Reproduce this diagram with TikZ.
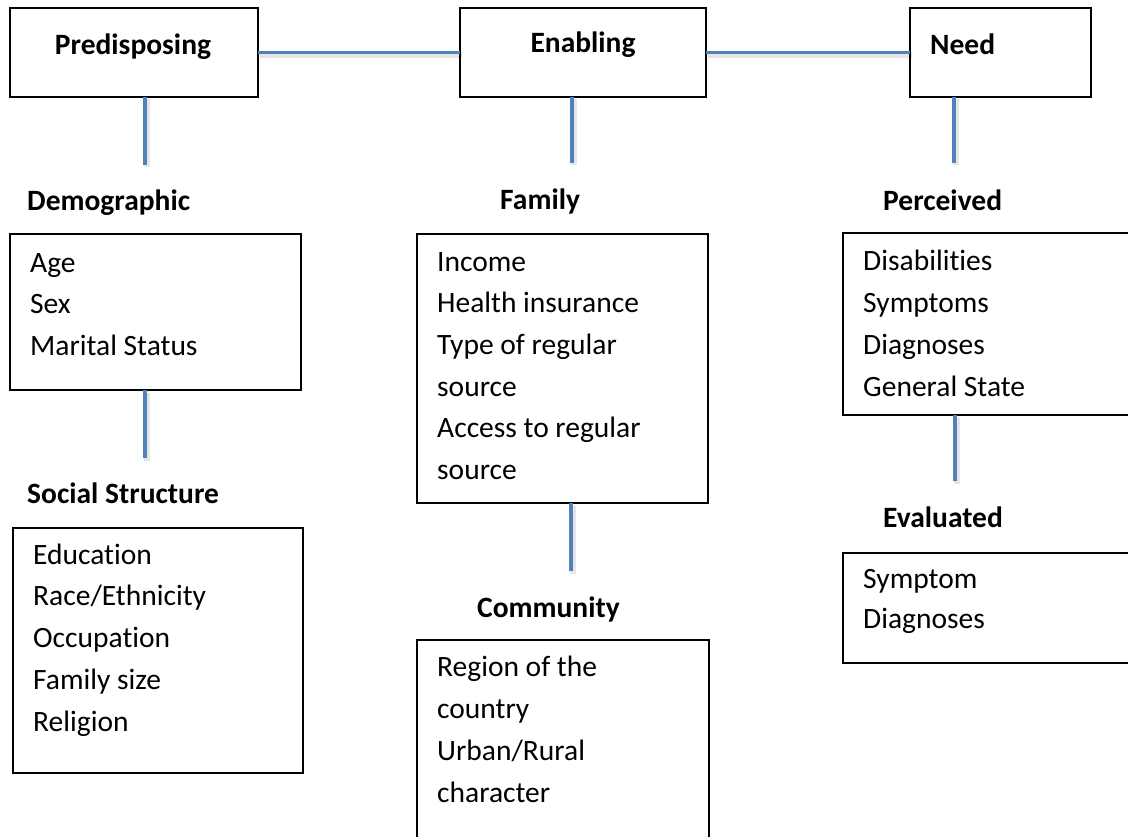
\documentclass[tikz,border=0pt]{standalone}
\usepackage{fontspec}
\setmainfont{Carlito}[Ligatures={NoCommon}]
\definecolor{linkblue}{HTML}{4F81BD}
\begin{document}
\begin{tikzpicture}[x=1pt,y=-1pt,
 box/.style={draw=black, line width=2pt, inner sep=0pt, outer sep=0pt, fill=white},
 hd/.style={font=\fontsize{29.5}{41.7}\selectfont\bfseries, inner sep=0pt, anchor=base west},
 body/.style={font=\fontsize{29.5}{41.7}\selectfont, inner sep=0pt, anchor=base west, align=left},
 conn/.style={draw=linkblue, line width=3.5pt, preaction={draw=black, draw opacity=0.1, line width=6pt, transform canvas={shift={(1.5pt,-2.5pt)}}}}]
\clip (0,0) rectangle (1128,837);
\useasboundingbox (0,0) rectangle (1128,837);
\fill[white] (0,0) rectangle (1128,837);

% free ends of connectors
\coordinate (c1) at (145,165);
\coordinate (c2) at (572,163);
\coordinate (c3) at (954,163);
\coordinate (c4) at (145,458);
\coordinate (c5) at (571,571);
\coordinate (c6) at (955,481);

% top boxes
\node[box, minimum width=248pt, minimum height=89pt] (pre) at (134,52.5) {};
\node[box, minimum width=246pt, minimum height=89pt] (en) at (583,52.5) {};
\node[box, minimum width=181pt, minimum height=89pt] (need) at (1000.5,52.5) {};

% lower boxes
\node[box, minimum width=291pt, minimum height=156pt] (demo) at (155.5,312) {};
\node[box, minimum width=290pt, minimum height=245pt] (soc) at (158,650.5) {};
\node[box, minimum width=291pt, minimum height=269pt] (fam) at (562.5,368.5) {};
\node[box, minimum width=292pt, minimum height=240pt] (com) at (563,760) {};
\node[box, minimum width=310pt, minimum height=182pt] (perc) at (998,324) {};
\node[box, minimum width=310pt, minimum height=110pt] (eval) at (998,608) {};

\draw[conn] (pre.east) -- (en.west);
\draw[conn] (en.east) -- (need.west);
\draw[conn] (c1 |- pre.south) -- (c1);
\draw[conn] (c2 |- en.south) -- (c2);
\draw[conn] (c3 |- need.south) -- (c3);
\draw[conn] (c4 |- demo.south) -- (c4);
\draw[conn] (c5 |- fam.south) -- (c5);
\draw[conn] (c6 |- perc.south) -- (c6);

% top titles
\node[hd, anchor=base] (tpre) at (133,55) {Predisposing};
\node[hd, anchor=base] (ten) at (583,53) {Enabling};
\node[hd] (tneed) at (930,55) {Need};

% headings
\node[hd] (hdemo) at (27,211) {Demographic};
\node[hd] (hfam) at (500,210) {Family};
\node[hd] (hperc) at (883,211) {Perceived};
\node[hd] (hsoc) at (27,503) {Social Structure};
\node[hd] (hcom) at (477,617) {Community};
\node[hd] (heval) at (883,527) {Evaluated};

% body texts (anchored at the baseline of the last line)
\node[body] (bdemo) at (30,355.4) {Age\\Sex\\Marital Status};
\node[body] (bsoc) at (33,731) {Education\\Race/Ethnicity\\Occupation\\Family size\\Religion};
\node[body] (bfam) at (437,479.5) {Income\\Health insurance\\Type of regular\\source\\Access to regular\\source};
\node[body] (bcom) at (437,802) {Region of the\\country\\Urban/Rural\\character};
\node[body] (bperc) at (863,396) {Disabilities\\Symptoms\\Diagnoses\\General State};
\node[body, font=\fontsize{29.5}{40}\selectfont] (beval) at (863,628) {Symptom\\Diagnoses};
\end{tikzpicture}
\end{document}
